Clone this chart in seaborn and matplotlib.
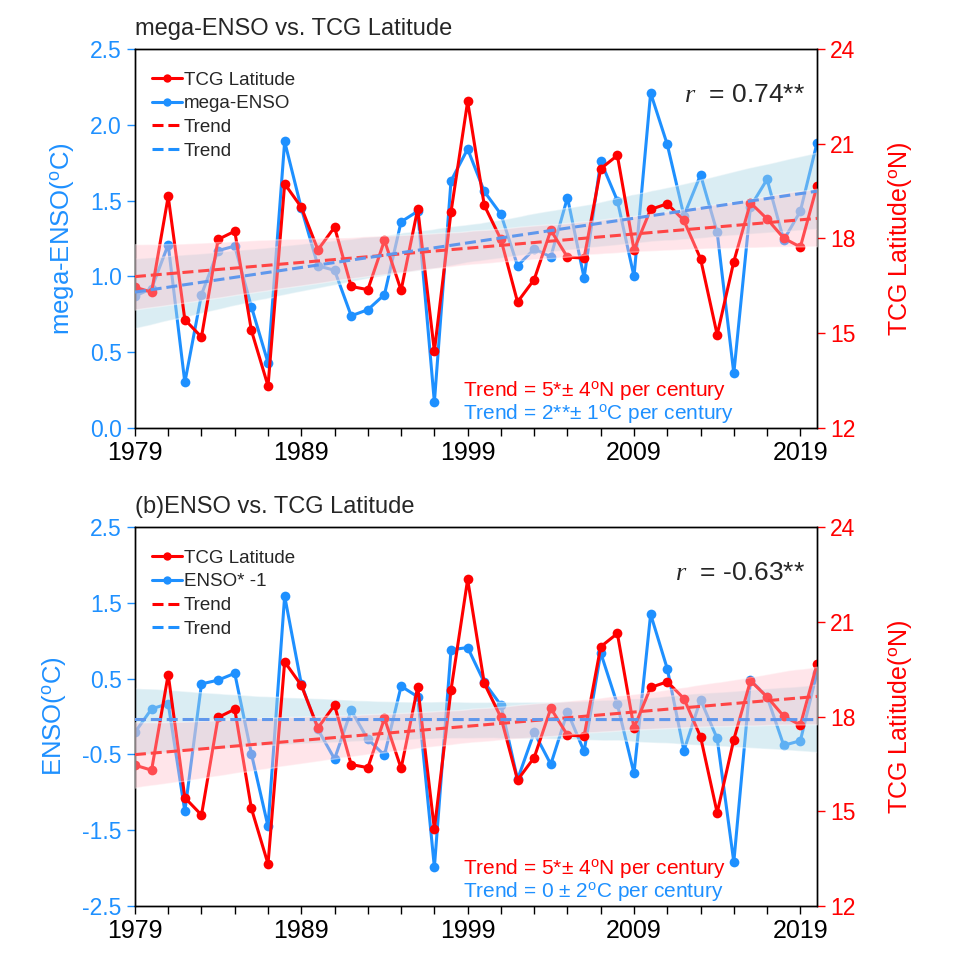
import matplotlib
matplotlib.use("Agg")
import pandas as pd
import seaborn as sns
from matplotlib import pyplot as plt
from matplotlib.lines import Line2D

years = list(range(1979, 2021))
tcg_lat = [16.46, 16.30, 19.33, 15.43, 14.88, 17.97, 18.23, 15.09, 13.33, 19.73,
           18.99, 17.64, 18.36, 16.48, 16.38, 17.94, 16.36, 18.94, 14.43, 18.84,
           22.34, 19.05, 17.97, 15.99, 16.70, 18.26, 17.41, 17.38, 20.21, 20.63,
           17.64, 18.92, 19.10, 18.57, 17.36, 14.95, 17.27, 19.13, 18.62, 18.01,
           17.73, 19.66]
mega_enso = [0.87, 0.92, 1.21, 0.30, 0.88, 1.17, 1.20, 0.80, 0.43, 1.89,
             1.45, 1.07, 1.04, 0.74, 0.78, 0.88, 1.36, 1.43, 0.17, 1.63,
             1.84, 1.56, 1.41, 1.07, 1.18, 1.13, 1.52, 0.99, 1.76, 1.50,
             1.00, 2.21, 1.87, 1.40, 1.67, 1.29, 0.36, 1.46, 1.64, 1.24,
             1.43, 1.88]
enso_neg = [-0.21, 0.10, 0.17, -1.25, 0.43, 0.48, 0.57, -0.49, -1.45, 1.59,
            0.43, -0.17, -0.56, 0.08, -0.30, -0.51, 0.40, 0.26, -1.99, 0.88,
            0.91, 0.45, 0.15, -0.83, -0.21, -0.63, 0.06, -0.46, 0.84, 0.16,
            -0.75, 1.35, 0.63, -0.45, 0.22, -0.29, -1.92, 0.48, 0.26, -0.38,
            -0.32, 0.58]

BLUE = "#1E90FF"
RED = "#FF0000"
DASH = (0, (3.6, 1.6))

sns.set_style("ticks")
plt.rcParams["font.family"] = ["Liberation Sans", "DejaVu Sans"]
plt.rcParams["mathtext.fontset"] = "custom"
plt.rcParams["mathtext.rm"] = "Liberation Sans"
plt.rcParams["mathtext.it"] = "Liberation Serif:italic"

DEG = r"$^{\mathrm{o}}$"


def draw_panel(fig, rect, blue, title, blue_label, ylabel, yticks, r_text, blue_trend):
    df = pd.DataFrame({"year": years, "tcg": tcg_lat, "blue": blue})
    ax = fig.add_axes(rect)

    # left axis: ENSO series + confidence band of its trend
    sns.lineplot(data=df, x="year", y="blue", ax=ax, color=BLUE, marker="o",
                 markersize=7, markeredgewidth=0, linewidth=2.2)
    sns.regplot(data=df, x="year", y="blue", ax=ax, scatter=False, ci=95, seed=0,
                color=BLUE)
    ax.lines[-1].remove()
    band = ax.collections[-1]
    band.set_facecolor("lightblue")
    band.set_alpha(0.45)
    band.set_zorder(3)

    # right axis: TCG latitude + trend
    ax2 = ax.twinx()
    sns.lineplot(data=df, x="year", y="tcg", ax=ax2, color=RED, marker="o",
                 markersize=7, markeredgewidth=0, linewidth=2.2)
    sns.regplot(data=df, x="year", y="tcg", ax=ax2, scatter=False, ci=95, seed=0,
                color="#FF4545", line_kws=dict(ls=DASH, lw=2.2, zorder=4))
    band = ax2.collections[-1]
    band.set_facecolor("pink")
    band.set_alpha(0.4)
    band.set_zorder(3)

    # overlay sharing the left scale, so the blue trend line sits on top
    ax3 = fig.add_axes(rect, sharex=ax, sharey=ax)
    ax3.patch.set_visible(False)
    sns.regplot(data=df, x="year", y="blue", ax=ax3, scatter=False, ci=None,
                color="#5F97EC", line_kws=dict(ls=DASH, lw=2.2))
    ax3.axis("off")

    ax.set_xlim(1979, 2020)
    ax.set_ylim(yticks[0], yticks[-1])
    ax2.set_ylim(12, 24)
    ax.set_xticks(range(1979, 2021, 2))
    ax.set_xticklabels([str(y) if (y - 1979) % 10 == 0 else "" for y in range(1979, 2021, 2)])
    ax.set_yticks(yticks)
    ax.set_yticklabels([f"{v:.1f}" for v in yticks])
    ax2.set_yticks([12, 15, 18, 21, 24])

    ax.tick_params(axis="x", labelsize=18, length=6, width=1, colors="black")
    ax.tick_params(axis="y", labelsize=16.5, length=6, width=1, colors=BLUE)
    ax2.tick_params(axis="y", labelsize=16.5, length=6, width=1, colors=RED)
    for a in (ax, ax2):
        for s in a.spines.values():
            s.set_color("black")
            s.set_linewidth(1.0)

    ax.set_xlabel("")
    ax.set_ylabel(ylabel, color=BLUE, fontsize=18.5, labelpad=10)
    ax2.set_ylabel("TCG Latitude(" + DEG + "N)", color=RED, fontsize=18, labelpad=22)
    ax.set_title(title, loc="left", fontsize=17, pad=10)

    handles = [
        Line2D([], [], color=RED, marker="o", ms=6, mew=0, lw=2.2),
        Line2D([], [], color=BLUE, marker="o", ms=6, mew=0, lw=2.2),
        Line2D([], [], color=RED, ls=DASH, lw=2.2),
        Line2D([], [], color=BLUE, ls=DASH, lw=2.2),
    ]
    labels = ["TCG Latitude", blue_label, "Trend", "Trend"]
    ax3.legend(handles, labels, loc="upper left", bbox_to_anchor=(0.0, 0.985),
               frameon=False, fontsize=13.5, handlelength=1.6, handletextpad=0.1,
               labelspacing=0.35)

    ax3.text(0.982, 0.879, r_text, transform=ax3.transAxes, ha="right",
             va="center", fontsize=19)
    ax3.text(0.481, 0.098, "Trend = 5*\u00b1 4" + DEG + "N per century",
             transform=ax3.transAxes, ha="left", va="center", fontsize=15, color=RED)
    ax3.text(0.481, 0.037, blue_trend, transform=ax3.transAxes, ha="left",
             va="center", fontsize=15, color=BLUE)


fig = plt.figure(figsize=(9.57, 9.57), dpi=100)

draw_panel(fig, [0.141, 0.5528, 0.7127, 0.396], mega_enso,
           "mega-ENSO vs. TCG Latitude", "mega-ENSO",
           "mega-ENSO(" + DEG + "C)", [0.0, 0.5, 1.0, 1.5, 2.0, 2.5],
           r"$r$  = 0.74**", "Trend = 2**\u00b1 1" + DEG + "C per century")
draw_panel(fig, [0.141, 0.0533, 0.7127, 0.396], enso_neg,
           "(b)ENSO vs. TCG Latitude", "ENSO* -1",
           "ENSO(" + DEG + "C)", [-2.5, -1.5, -0.5, 0.5, 1.5, 2.5],
           r"$r$  = -0.63**", "Trend = 0 \u00b1 2" + DEG + "C per century")

fig.savefig("out.png", dpi=100)
